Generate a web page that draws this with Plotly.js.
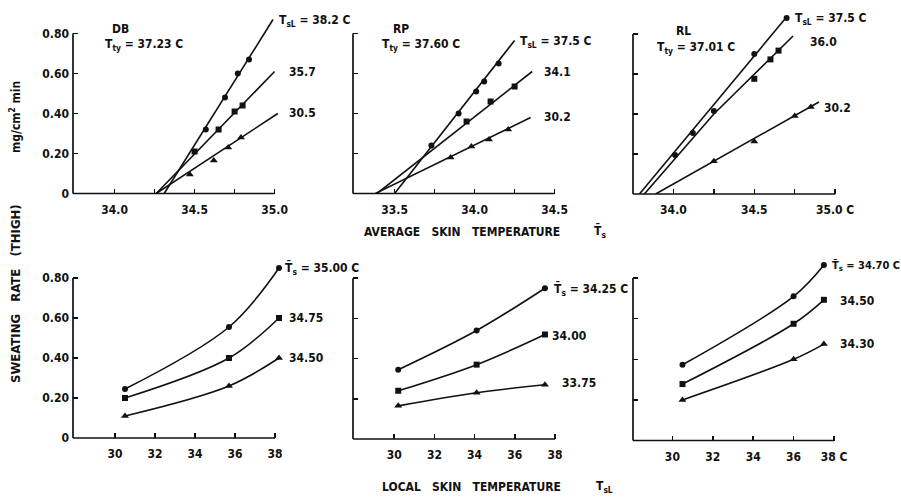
<!DOCTYPE html>
<html><head><meta charset="utf-8">
<script src="https://cdn.plot.ly/plotly-3.0.1.min.js"></script>
<style>html,body{margin:0;padding:0;background:#fff}#c{width:901px;height:500px}</style>
</head><body><div id="c"></div>
<script>
// ---------- DATA ----------
// Top row: sweating rate vs average skin temperature, one line per local skin temp
const dbHiX = [34.57, 34.69, 34.77, 34.84];  const dbHiY = [0.32, 0.48, 0.60, 0.67];   // Ts_L 38.2
const dbMdX = [34.50, 34.65, 34.75, 34.80];  const dbMdY = [0.21, 0.32, 0.41, 0.44];   // 35.7
const dbLoX = [34.47, 34.62, 34.71, 34.79];  const dbLoY = [0.095, 0.165, 0.23, 0.28]; // 30.5
const dbFitHiX = [34.31, 34.99]; const dbFitHiY = [0, 0.87];
const dbFitMdX = [34.26, 35.00]; const dbFitMdY = [0, 0.61];
const dbFitLoX = [34.26, 35.02]; const dbFitLoY = [0, 0.40];

const rpHiX = [33.73, 33.90, 34.01, 34.06, 34.15]; const rpHiY = [0.24, 0.40, 0.51, 0.56, 0.65]; // 37.5
const rpMdX = [33.95, 34.10, 34.25];               const rpMdY = [0.36, 0.46, 0.535];            // 34.1
const rpLoX = [33.85, 33.98, 34.09, 34.21];        const rpLoY = [0.18, 0.235, 0.27, 0.32];      // 30.2
const rpFitHiX = [33.50, 34.25]; const rpFitHiY = [0, 0.765];
const rpFitMdX = [33.39, 34.36]; const rpFitMdY = [0, 0.61];
const rpFitLoX = [33.38, 34.35]; const rpFitLoY = [0, 0.38];

const rlHiX = [34.01, 34.12, 34.25, 34.50, 34.70]; const rlHiY = [0.195, 0.305, 0.415, 0.70, 0.88]; // 37.5
const rlMdX = [34.50, 34.60, 34.65];               const rlMdY = [0.576, 0.673, 0.717];             // 36.0
const rlLoX = [34.25, 34.50, 34.75, 34.85];        const rlLoY = [0.164, 0.262, 0.39, 0.435];       // 30.2
const rlFitHiX = [33.79, 34.70];        const rlFitHiY = [0, 0.885];
const rlFitMdX = [33.82, 34.25, 34.74]; const rlFitMdY = [0, 0.40, 0.79];
const rlFitLoX = [33.89, 34.90];        const rlFitLoY = [0, 0.46];

// Bottom row: sweating rate vs local skin temperature, one curve per average skin temp
const dbLocalX = [30.5, 35.7, 38.2];
const dbTs3500 = [0.245, 0.555, 0.85];
const dbTs3475 = [0.20, 0.40, 0.60];
const dbTs3450 = [0.11, 0.26, 0.40];

const rpLocalX = [30.2, 34.1, 37.5];
const rpTs3425 = [0.345, 0.54, 0.75];
const rpTs3400 = [0.24, 0.37, 0.52];
const rpTs3375 = [0.165, 0.23, 0.27];

const rlLocalX = [30.5, 36.0, 37.5];
const rlTs3470 = [0.373, 0.71, 0.865];
const rlTs3450 = [0.278, 0.575, 0.693];
const rlTs3430 = [0.20, 0.40, 0.475];

const yTickVals = [0, 0.2, 0.4, 0.6, 0.8];
const yTickText = ['0', '0.20', '0.40', '0.60', '0.80'];
const topTickVals = [[34.0, 34.25, 34.5, 34.75, 35.0], [33.5, 33.75, 34.0, 34.25, 34.5], [34.0, 34.25, 34.5, 34.75, 35.0]];
const topTickText = [['34.0', ' ', '34.5', ' ', '35.0'], ['33.5', ' ', '34.0', ' ', '34.5'], ['34.0', ' ', '34.5', ' ', '35.0 C']];
const botTickVals = [30, 32, 34, 36, 38];
const botTickText = [['30', '32', '34', '36', '38'], ['30', '32', '34', '36', '38'], ['30', '32', '34', '36', '38 C']];

// ---------- LAYOUT ----------
const W = 901, H = 500;
const FONT = 'DejaVu Sans Condensed, Liberation Sans Narrow, Liberation Sans, Arial, sans-serif';
const INK = '#111';
const WT = 'bold';
// pixel geometry of each panel: px at xmin, px per unit, xmin, xmax, axis end, py at y=0, px per unit y
const P = [
  {x0: 73,    xs: 160,   xmin: 33.74, xmax: 35.06, xend: 35.0, y0: 193.5, ys: 200, ymax: 0.93},
  {x0: 353,   xs: 160,   xmin: 33.24, xmax: 34.56, xend: 34.5, y0: 193.5, ys: 200, ymax: 0.93},
  {x0: 633,   xs: 161.7, xmin: 33.75, xmax: 35.02, xend: 35.0, y0: 194,   ys: 200, ymax: 0.93},
  {x0: 73,    xs: 20,    xmin: 27.9,  xmax: 38.5,  xend: 38.0, y0: 438,   ys: 200, ymax: 0.92},
  {x0: 353,   xs: 20.1,  xmin: 27.95, xmax: 38.4,  xend: 38.0, y0: 439,   ys: 201, ymax: 0.92},
  {x0: 633,   xs: 20.2,  xmin: 28.05, xmax: 38.4,  xend: 38.0, y0: 440.5, ys: 203, ymax: 0.92}
];

const layout = {
  width: W, height: H, margin: {l: 0, r: 0, t: 0, b: 0},
  paper_bgcolor: '#fff', plot_bgcolor: 'rgba(0,0,0,0)',
  showlegend: false, font: {family: FONT, color: INK, size: 12, weight: WT},
  shapes: [], annotations: []
};

P.forEach((p, i) => {
  const n = i === 0 ? '' : String(i + 1);
  const xr = p.x0 + (p.xmax - p.xmin) * p.xs;
  const yt = p.y0 - p.ymax * p.ys;
  const top = i < 3;
  layout['xaxis' + n] = {
    domain: [p.x0 / W, xr / W], range: [p.xmin, p.xmax], anchor: 'y' + n,
    showgrid: false, zeroline: false, showline: false,
    ticks: 'inside', ticklen: 5, tickwidth: 1.5, tickcolor: INK,
    tickvals: top ? topTickVals[i] : botTickVals,
    ticktext: top ? topTickText[i] : botTickText[i - 3],
    ticklabelstandoff: 7, tickfont: {family: FONT, size: 12, color: INK, weight: WT}
  };
  layout['yaxis' + n] = {
    domain: [1 - p.y0 / H, 1 - yt / H], range: [0, p.ymax], anchor: 'x' + n,
    showgrid: false, zeroline: false, showline: false,
    ticks: 'inside', ticklen: 5, tickwidth: 1.5, tickcolor: INK,
    tickvals: yTickVals, ticktext: yTickText,
    showticklabels: (i === 0 || i === 3), ticklabelstandoff: 3,
    tickfont: {family: FONT, size: 12, color: INK, weight: WT}
  };
  // L-shaped axis frame (y axis stops at 0.80, x axis at the last tick)
  const yTopPx = p.y0 - 0.8 * p.ys;
  const xEndPx = p.x0 + (p.xend - p.xmin) * p.xs;
  layout.shapes.push({type: 'line', xref: 'paper', yref: 'paper', x0: p.x0 / W, x1: p.x0 / W,
    y0: 1 - p.y0 / H, y1: 1 - yTopPx / H, line: {color: INK, width: 1.7}});
  layout.shapes.push({type: 'line', xref: 'paper', yref: 'paper', x0: p.x0 / W, x1: xEndPx / W,
    y0: 1 - p.y0 / H, y1: 1 - p.y0 / H, line: {color: INK, width: 1.7}});
});

function ann(text, px, py, opt) {
  layout.annotations.push(Object.assign({
    text: text, x: px / W, y: 1 - py / H, xref: 'paper', yref: 'paper',
    xanchor: 'left', yanchor: 'middle', showarrow: false,
    font: {family: FONT, size: 12, color: INK, weight: WT}
  }, opt || {}));
}
const TBAR = 'T\u0304';
const GAP = '\u00A0\u00A0\u00A0';
// top row panel texts
ann('DB', 110, 29); ann('T<sub>ty</sub> = 37.23 C', 103, 45);
ann('T<sub>sL</sub> = 38.2 C', 277, 21); ann('35.7', 287, 72); ann('30.5', 287, 113);
ann('RP', 391, 29); ann('T<sub>ty</sub> = 37.60 C', 380, 45);
ann('T<sub>sL</sub> = 37.5 C', 518, 42); ann('34.1', 542, 72); ann('30.2', 542, 117);
ann('RL', 674, 31); ann('T<sub>ty</sub> = 37.01 C', 655, 48);
ann('T<sub>sL</sub> = 37.5 C', 793, 19); ann('36.0', 808, 42); ann('30.2', 822, 108);
// bottom row panel texts
ann(TBAR + '<sub>s</sub> = 35.00 C', 283, 268); ann('34.75', 287, 318); ann('34.50', 287, 358);
ann(TBAR + '<sub>s</sub> = 34.25 C', 552, 289); ann('34.00', 550, 336); ann('33.75', 560, 383);
ann(TBAR + '<sub>s</sub> = 34.70 C', 830, 266, {font: {family: FONT, size: 11, color: INK, weight: WT}});
ann('34.50', 838, 301); ann('34.30', 838, 344);
// axis titles
ann('mg/cm<sup>2</sup> min', 15, 117, {xanchor: 'center', textangle: -90, font: {family: FONT, size: 12, color: INK, weight: WT}});
ann('SWEATING' + GAP + 'RATE' + GAP + '(THIGH)', 15, 294, {xanchor: 'center', textangle: -90, font: {family: FONT, size: 13, color: INK, weight: WT}});
ann('AVERAGE' + GAP + 'SKIN' + GAP + 'TEMPERATURE', 462, 232, {xanchor: 'center'});
ann(TBAR + '<sub>s</sub>', 592, 232);
ann('LOCAL' + GAP + 'SKIN' + GAP + 'TEMPERATURE', 471, 487, {xanchor: 'center'});
ann('T<sub>sL</sub>', 594, 487);

// ---------- TRACES ----------
const traces = [];
function fit(x, y, n) {
  traces.push({x: x, y: y, xaxis: 'x' + n, yaxis: 'y' + n, type: 'scatter', mode: 'lines',
    line: {color: INK, width: 1.6}, hoverinfo: 'skip'});
}
function pts(x, y, n, sym) {
  traces.push({x: x, y: y, xaxis: 'x' + n, yaxis: 'y' + n, type: 'scatter', mode: 'markers',
    marker: {symbol: sym, size: sym === 'triangle-up' ? 7 : 6, color: INK}, cliponaxis: false});
}
function curve(x, y, n, sym) {
  traces.push({x: x, y: y, xaxis: 'x' + n, yaxis: 'y' + n, type: 'scatter', mode: 'lines+markers',
    line: {color: INK, width: 1.6, shape: 'spline', smoothing: 1},
    marker: {symbol: sym, size: sym === 'triangle-up' ? 7 : 6, color: INK}, cliponaxis: false});
}
fit(dbFitHiX, dbFitHiY, ''); fit(dbFitMdX, dbFitMdY, ''); fit(dbFitLoX, dbFitLoY, '');
pts(dbHiX, dbHiY, '', 'circle'); pts(dbMdX, dbMdY, '', 'square'); pts(dbLoX, dbLoY, '', 'triangle-up');
fit(rpFitHiX, rpFitHiY, '2'); fit(rpFitMdX, rpFitMdY, '2'); fit(rpFitLoX, rpFitLoY, '2');
pts(rpHiX, rpHiY, '2', 'circle'); pts(rpMdX, rpMdY, '2', 'square'); pts(rpLoX, rpLoY, '2', 'triangle-up');
fit(rlFitHiX, rlFitHiY, '3'); fit(rlFitMdX, rlFitMdY, '3'); fit(rlFitLoX, rlFitLoY, '3');
pts(rlHiX, rlHiY, '3', 'circle'); pts(rlMdX, rlMdY, '3', 'square'); pts(rlLoX, rlLoY, '3', 'triangle-up');
curve(dbLocalX, dbTs3500, '4', 'circle'); curve(dbLocalX, dbTs3475, '4', 'square'); curve(dbLocalX, dbTs3450, '4', 'triangle-up');
curve(rpLocalX, rpTs3425, '5', 'circle'); curve(rpLocalX, rpTs3400, '5', 'square'); curve(rpLocalX, rpTs3375, '5', 'triangle-up');
curve(rlLocalX, rlTs3470, '6', 'circle'); curve(rlLocalX, rlTs3450, '6', 'square'); curve(rlLocalX, rlTs3430, '6', 'triangle-up');

Plotly.newPlot('c', traces, layout, {staticPlot: true, displayModeBar: false});
</script></body></html>
